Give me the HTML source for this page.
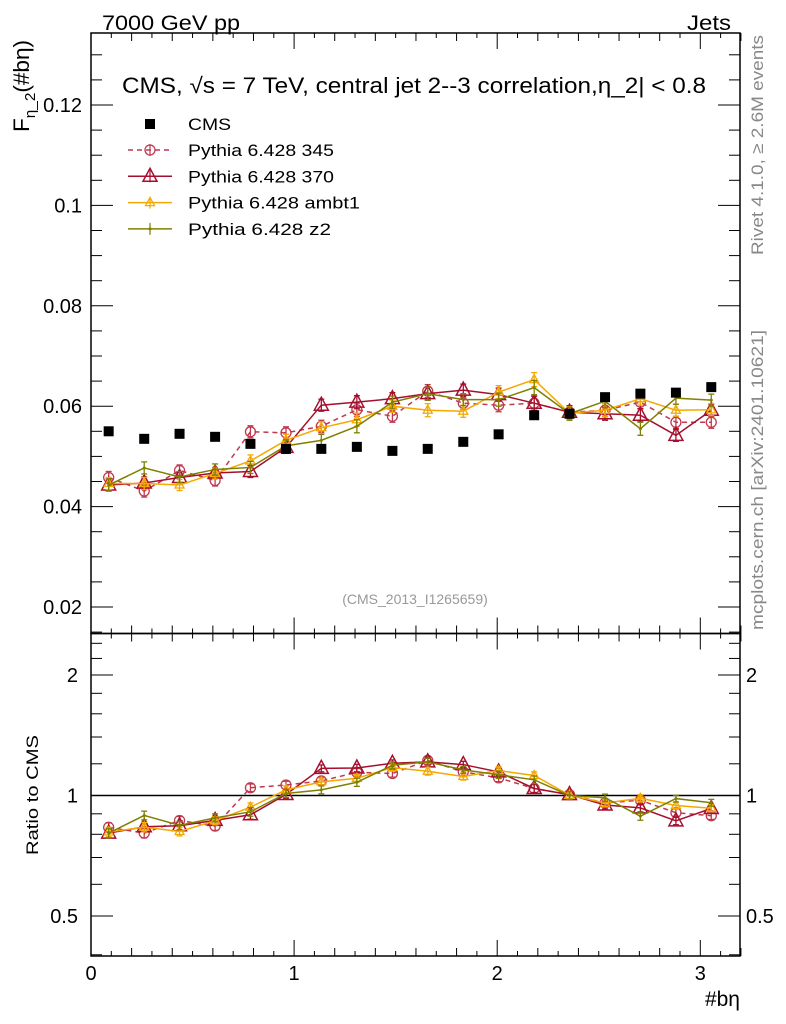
<!DOCTYPE html>
<html><head><meta charset="utf-8"><style>
body{margin:0;background:#fff}
svg{display:block;font-family:"Liberation Sans",sans-serif}
</style></head><body>
<svg id="plot" width="786" height="1024" viewBox="0 0 786 1024">
<g id="frames"></g>
<text x="102" y="30" font-size="21" textLength="138" lengthAdjust="spacingAndGlyphs">7000 GeV pp</text>
<text x="687" y="30" font-size="21" textLength="44" lengthAdjust="spacingAndGlyphs">Jets</text>
<text x="122" y="93" font-size="22" textLength="584" lengthAdjust="spacingAndGlyphs">CMS, √s = 7 TeV, central jet 2--3 correlation,η_2| &lt; 0.8</text>
<text x="415" y="604" font-size="14" fill="#999" text-anchor="middle">(CMS_2013_I1265659)</text>
<text transform="translate(763,255) rotate(-90)" font-size="17" fill="#888" textLength="220" lengthAdjust="spacingAndGlyphs">Rivet 4.1.0, ≥ 2.6M events</text>
<text transform="translate(763,630) rotate(-90)" font-size="17" fill="#888" textLength="300" lengthAdjust="spacingAndGlyphs">mcplots.cern.ch [arXiv:2401.10621]</text>
<text transform="translate(29,132) rotate(-90)" font-size="22" textLength="92" lengthAdjust="spacingAndGlyphs">F<tspan font-size="15" dy="6">η_2</tspan><tspan dy="-6">(#bη)</tspan></text>
<text transform="translate(38,855) rotate(-90)" font-size="17" textLength="120" lengthAdjust="spacingAndGlyphs">Ratio to CMS</text>
<text x="740" y="1006" font-size="21" text-anchor="end">#bη</text>
<g id="legend"></g>
<g id="marks"></g>
</svg>
<script>
const binCenters=[0.087,0.262,0.436,0.611,0.785,0.96,1.134,1.309,1.484,1.658,1.833,2.007,2.182,2.356,2.531,2.705,2.880,3.054];
const cmsVals=[0.0550,0.0535,0.0545,0.0539,0.0525,0.0515,0.0515,0.0519,0.0511,0.0515,0.0529,0.0544,0.0582,0.0585,0.0618,0.0625,0.0627,0.0638];
const p345Vals=[0.0458,0.0431,0.0472,0.0452,0.0549,0.0547,0.0560,0.0593,0.0580,0.0630,0.0606,0.0602,0.0606,0.0588,0.0592,0.0608,0.0568,0.0568];
const p370Vals=[0.0443,0.0447,0.0458,0.0467,0.0470,0.0518,0.0602,0.0608,0.0615,0.0625,0.0632,0.0623,0.0606,0.0588,0.0585,0.0582,0.0542,0.0592];
const ambt1Vals=[0.0446,0.0446,0.0443,0.0466,0.0491,0.0532,0.0557,0.0573,0.0600,0.0592,0.0590,0.0628,0.0653,0.0586,0.0592,0.0615,0.0592,0.0593];
const z2Vals=[0.0443,0.0477,0.0459,0.0474,0.0478,0.0521,0.0532,0.0560,0.0608,0.0625,0.0613,0.0613,0.0637,0.0585,0.0610,0.0555,0.0616,0.0612];
const mcErr=[0.0012,0.0012,0.0011,0.0011,0.0012,0.0012,0.0012,0.0013,0.0012,0.0013,0.0012,0.0013,0.0014,0.0013,0.0013,0.0013,0.0012,0.0012];
const mainTicks=[0.02,0.04,0.06,0.08,0.1,0.12];
const ratioTicks=[0.5,1,2];
const xTicks=[0,1,2,3];

const NS="http://www.w3.org/2000/svg";
const L=91,R=740,T=33,MB=633.5,RB=956;
const X=v=>L+v*203.1;
const Y=v=>607-(v-0.02)/0.02*100.4;
const YR=v=>795.5-Math.log2(v)*120.5;
function mk(tag,attrs,parent){const e=document.createElementNS(NS,tag);for(const k in attrs)e.setAttribute(k,attrs[k]);(parent||document.getElementById('marks')).appendChild(e);return e;}
const fr=document.getElementById('frames');
let e;
e=mk('rect',{x:L,y:T,width:R-L,height:MB-T,fill:'none',stroke:'#000','stroke-width':1.5},fr);


e=mk('rect',{x:L,y:MB,width:R-L,height:RB-MB,fill:'none',stroke:'#000','stroke-width':1.5},fr);


for(let i=0;i<=32;i++){const v=i/10,x=X(v);const len=(i%10===0)?16:(i%2===0?8:5);
 [[T,1],[MB,-1],[MB,1],[RB,-1]].forEach(([y,d])=>{mk('line',{x1:x,x2:x,y1:y,y2:y+d*len,stroke:'#000','stroke-width':1},fr);});}
xTicks.forEach(v=>{const t=mk('text',{x:X(v),y:980,'font-size':20,'text-anchor':'middle'},fr);t.textContent=v;

});
for(let v=0.015;v<=0.1351;v+=0.005){const y=Y(v);if(y<T||y>MB)continue;const maj=Math.abs(v/0.02-Math.round(v/0.02))<1e-6;const len=maj?22:11;
 mk('line',{x1:L,x2:L+len,y1:y,y2:y,stroke:'#000'},fr);mk('line',{x1:R,x2:R-len,y1:y,y2:y,stroke:'#000'},fr);}
mainTicks.forEach(v=>{const t=mk('text',{x:82,y:Y(v)+7,'font-size':20,'text-anchor':'end'},fr);t.textContent=String(v);

});
[0.4,0.5,0.6,0.7,0.8,0.9,1,1.2,1.4,1.6,1.8,2,2.2,2.4].forEach(v=>{const y=YR(v);if(y<MB||y>RB)return;const maj=ratioTicks.includes(v);const len=maj?22:11;
 mk('line',{x1:L,x2:L+len,y1:y,y2:y,stroke:'#000'},fr);mk('line',{x1:R,x2:R-len,y1:y,y2:y,stroke:'#000'},fr);});
ratioTicks.forEach(v=>{let t=mk('text',{x:78,y:YR(v)+7,'font-size':20,'text-anchor':'end'},fr);t.textContent=v;


t=mk('text',{x:746,y:YR(v)+7,'font-size':20},fr);t.textContent=v;

});
e=mk('line',{x1:L,x2:R,y1:YR(1),y2:YR(1),stroke:'#000','stroke-width':1.5},fr);



const series=[
 {name:'p345',vals:p345Vals,color:'#c0394f',dash:'5,4',marker:'circle',label:'Pythia 6.428 345',tl:146},
 {name:'p370',vals:p370Vals,color:'#a50f2d',dash:'',marker:'tri',label:'Pythia 6.428 370',tl:146},
 {name:'ambt1',vals:ambt1Vals,color:'#f5a800',dash:'',marker:'stri',label:'Pythia 6.428 ambt1',tl:172},
 {name:'z2',vals:z2Vals,color:'#7f8000',dash:'',marker:'dot',label:'Pythia 6.428 z2',tl:143}];
function marker(s,x,y,g){
 if(s.marker==='circle')return mk('circle',{cx:x,cy:y,r:5,fill:'none',stroke:s.color,'stroke-width':1.3},g);
 if(s.marker==='tri')return mk('polygon',{points:`${x},${y-8} ${x-7},${y+5} ${x+7},${y+5}`,fill:'none',stroke:s.color,'stroke-width':1.5},g);
 if(s.marker==='stri')return mk('polygon',{points:`${x},${y-5} ${x-4.5},${y+3} ${x+4.5},${y+3}`,fill:'none',stroke:s.color,'stroke-width':1.3},g);
 return mk('circle',{cx:x,cy:y,r:1.5,fill:s.color},g);
}
const marks=document.getElementById('marks');
series.forEach(s=>{
 [['main',(i)=>s.vals[i],(i)=>mcErr[i],Y],['ratio',(i)=>s.vals[i]/cmsVals[i],(i)=>mcErr[i]/cmsVals[i],YR]].forEach(([pn,fv,fe,fy])=>{
  const g=mk('g',{},marks);
  
  
  const pts=binCenters.map((c,i)=>X(c)+','+fy(fv(i))).join(' ');
  const pl=mk('polyline',{points:pts,fill:'none',stroke:s.color,'stroke-width':1.5,'stroke-dasharray':s.dash},g);
  
  
  binCenters.forEach((c,i)=>{const x=X(c),v=fv(i),er=fe(i);const y1=fy(v+er),y2=fy(v-er);
   mk('line',{x1:x,x2:x,y1:y1,y2:y2,stroke:s.color,'stroke-width':1.3},g);
   mk('line',{x1:x-3,x2:x+3,y1:y1,y2:y1,stroke:s.color,'stroke-width':1.3},g);
   mk('line',{x1:x-3,x2:x+3,y1:y2,y2:y2,stroke:s.color,'stroke-width':1.3},g);
   const m=marker(s,x,fy(v),g);
   
   
  });
 });
});
const cg=mk('g',{},marks);


binCenters.forEach((c,i)=>{const r=mk('rect',{x:X(c)-5,y:Y(cmsVals[i])-5,width:10,height:10,fill:'#000'},cg);
 
 });
const lg=document.getElementById('legend');
let r=mk('rect',{x:145,y:119,width:10,height:10,fill:'#000'},lg);


let t=mk('text',{x:188,y:130,'font-size':17,textLength:43,lengthAdjust:'spacingAndGlyphs'},lg);t.textContent='CMS';


series.forEach((s,i)=>{const y=150+i*26.3;
 mk('line',{x1:128,x2:172,y1:y,y2:y,stroke:s.color,'stroke-width':1.5,'stroke-dasharray':s.dash},lg);
 mk('line',{x1:150,x2:150,y1:y-6,y2:y+6,stroke:s.color,'stroke-width':1.2},lg);
 marker(s,150,y,lg);
 const tt=mk('text',{x:188,y:y+6,'font-size':17,textLength:s.tl,lengthAdjust:'spacingAndGlyphs'},lg);tt.textContent=s.label;
 
 
});
</script>
</body></html>
